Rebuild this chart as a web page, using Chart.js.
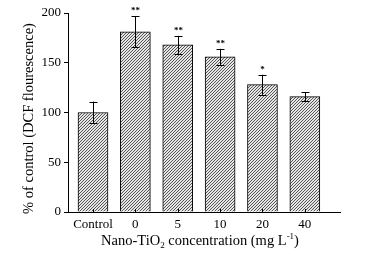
<!DOCTYPE html>
<html>
<head>
<meta charset="utf-8">
<script src="https://cdn.jsdelivr.net/npm/chart.js@4/dist/chart.umd.min.js"></script>
<style>
  html, body { margin: 0; padding: 0; background: #fff; }
  #wrap { width: 366px; height: 254px; }
</style>
</head>
<body>
<div id="wrap"><canvas id="myChart" width="366" height="254"></canvas></div>
<script>
const labels = ['Control', '0', '5', '10', '20', '40'];
const values = [100, 181, 168, 156, 128, 116];
const errors = [11, 15.5, 9, 8, 10, 4.5];
const stars = ['', '**', '**', '**', '*', ''];
const yTicks = [0, 50, 100, 150, 200];

const serif = "'Liberation Serif', 'Times New Roman', serif";

// hatched fill like the printed figure
function hatch() {
  const c = document.createElement('canvas');
  c.width = 3; c.height = 3;
  const g = c.getContext('2d');
  g.fillStyle = '#e6e6e6';
  g.fillRect(0, 0, 3, 3);
  g.fillStyle = '#555';
  // one-pixel diagonal "/" line per tile
  g.fillRect(2, 0, 1, 1);
  g.fillRect(1, 1, 1, 1);
  g.fillRect(0, 2, 1, 1);
  return g.createPattern(c, 'repeat');
}

const extras = {
  id: 'extras',
  afterDatasetsDraw(chart) {
    const ctx = chart.ctx;
    const x = chart.scales.x, y = chart.scales.y;
    ctx.save();
    ctx.strokeStyle = '#000';
    ctx.fillStyle = '#000';
    ctx.lineWidth = 1;
    values.forEach((v, i) => {
      const px = Math.round(x.getPixelForValue(i)) + 0.5;
      const top = y.getPixelForValue(v + errors[i]);
      const bot = y.getPixelForValue(v - errors[i]);
      ctx.beginPath();
      ctx.moveTo(px, top); ctx.lineTo(px, bot);
      ctx.moveTo(px - 4, Math.round(top) + 0.5); ctx.lineTo(px + 4, Math.round(top) + 0.5);
      ctx.moveTo(px - 4, Math.round(bot) + 0.5); ctx.lineTo(px + 4, Math.round(bot) + 0.5);
      // small inward tick on the x axis
      ctx.moveTo(px, y.bottom); ctx.lineTo(px, y.bottom - 3);
      ctx.stroke();
      if (stars[i]) {
        ctx.font = 'bold 9px ' + serif;
        ctx.textAlign = 'center';
        ctx.textBaseline = 'bottom';
        ctx.fillText(stars[i], px, top - 1);
      }
    });
    ctx.restore();
  },
  afterDraw(chart) {
    const ctx = chart.ctx;
    const a = chart.chartArea;
    ctx.save();
    ctx.fillStyle = '#000';
    ctx.textBaseline = 'alphabetic';
    // y title
    ctx.translate(33, (a.top + a.bottom) / 2 + 6);
    ctx.rotate(-Math.PI / 2);
    ctx.font = '14.5px ' + serif;
    ctx.textAlign = 'center';
    ctx.fillText('% of control (DCF flourescence)', 0, 0);
    ctx.restore();

    // x title with subscript and superscript
    ctx.save();
    ctx.fillStyle = '#000';
    ctx.textBaseline = 'alphabetic';
    const parts = [
      ['Nano-TiO', 14.5, 0], ['2', 9, 3], [' concentration (mg L', 14.5, 0], ['-1', 9, -6], [')', 14.5, 0]
    ];
    let w = 0;
    parts.forEach(p => { ctx.font = p[1] + 'px ' + serif; w += ctx.measureText(p[0]).width; });
    let cx = (a.left + a.right) / 2 - 4 - w / 2;
    const base = 245;
    parts.forEach(p => {
      ctx.font = p[1] + 'px ' + serif;
      ctx.fillText(p[0], cx, base + p[2]);
      cx += ctx.measureText(p[0]).width;
    });
    ctx.restore();
  }
};

const ctx = document.getElementById('myChart').getContext('2d');
const chart = new Chart(ctx, {
  type: 'bar',
  data: {
    datasets: [{
      data: values.map((v, i) => ({ x: i, y: v })),
      backgroundColor: hatch(),
      borderColor: '#000',
      borderWidth: 1,
      barThickness: 30
    }]
  },
  plugins: [extras],
  options: {
    responsive: false,
    animation: false,
    layout: { padding: { left: 0, right: 26, top: 13, bottom: 0 } },
    plugins: { legend: { display: false }, tooltip: { enabled: false } },
    scales: {
      x: {
        type: 'linear',
        offset: false,
        min: -0.59,
        max: 5.83,
        grid: { display: false, drawTicks: false, offset: false },
        border: { color: '#000', width: 1 },
        ticks: {
          stepSize: 1,
          includeBounds: false,
          autoSkip: false,
          maxRotation: 0,
          padding: 5,
          color: '#000',
          font: { family: serif, size: 13 },
          callback: (v) => Number.isInteger(v) ? labels[v] : ''
        },
        afterFit(scale) { scale.height = 42; }
      },
      y: {
        min: 0,
        max: 200,
        afterBuildTicks(scale) { scale.ticks = yTicks.map(v => ({ value: v })); },
        grid: { drawOnChartArea: false, tickLength: 4, color: '#000' },
        border: { color: '#000', width: 1 },
        ticks: {
          padding: 3,
          color: '#000',
          font: { family: serif, size: 13 }
        },
        afterFit(scale) { scale.width = 68; }
      }
    }
  }
});
</script>
</body>
</html>
